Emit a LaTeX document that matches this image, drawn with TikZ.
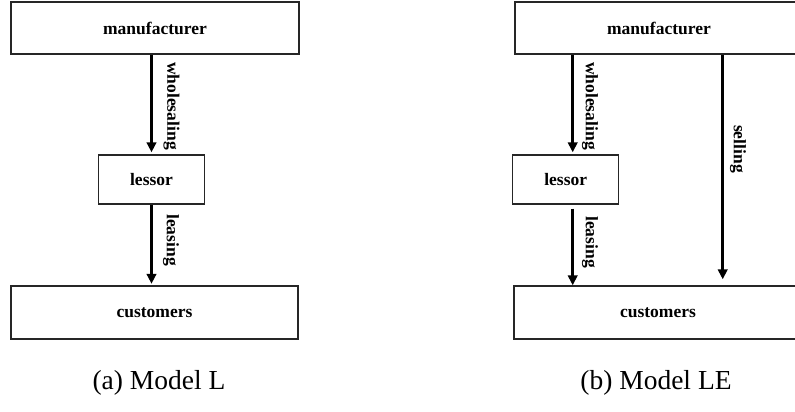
\documentclass[tikz,border=0pt]{standalone}
\usepackage{fontspec}
\setmainfont{Liberation Serif}
\usetikzlibrary{arrows.meta}
\begin{document}
\begin{tikzpicture}[x=1pt,y=-1pt,
  box/.style={draw=black!85, line width=1.4pt, inner sep=0pt,
    font=\fontsize{17.5}{20}\selectfont\bfseries},
  flow/.style={line width=2.7pt, -{Triangle[length=10pt,width=9.5pt]}},
  lab/.style={rotate=-90, inner sep=0pt, font=\fontsize{17.5}{20}\selectfont\bfseries},
  captext/.style={anchor=base, inner sep=0pt, font=\fontsize{27.5}{31}\selectfont}]
\useasboundingbox (0,0) rectangle (795,412);

% (a) Model L
\node[box, minimum width=288pt, minimum height=52pt] (mL) at (155,28) {manufacturer};
\node[box, minimum width=106pt, minimum height=49pt] (lL) at (151.5,179.5) {lessor};
\node[box, minimum width=287pt, minimum height=53pt] (cL) at (154.5,312.5) {customers};
\draw[flow] (mL.south -| lL.north) -- ([yshift=2pt]lL.north);
\draw[flow] (lL.south) -- ([yshift=1.5pt]cL.north -| lL.south);
\node[lab] (wlabL) at (171.5,106) {wholesaling};
\node[lab] (llabL) at (171,240) {leasing};
\node[captext] (capA) at (159,389) {(a) Model L};

% (b) Model LE
\node[box, minimum width=288pt, minimum height=52pt] (mR) at (659,28) {manufacturer};
\node[box, minimum width=106pt, minimum height=49pt] (lR) at (565.7,179.5) {lessor};
\node[box, minimum width=288pt, minimum height=53pt] (cR) at (658,312.5) {customers};
\coordinate (wR) at ([xshift=7pt]lR.north);
\coordinate (sR) at ([xshift=63.7pt]mR.south);
\draw[flow] (mR.south -| wR) -- ([yshift=2pt]wR);
\draw[flow] ([yshift=-4pt]lR.south -| wR) -- (cR.north -| wR);
\draw[flow] (sR) -- ([yshift=6pt]cR.north -| sR);
\node[lab] (wlabR) at (590,106) {wholesaling};
\node[lab] (llabR) at (590,242) {leasing};
\node[lab] (slabR) at (738,149) {selling};
\node[captext] (capB) at (656,389) {(b) Model LE};
\end{tikzpicture}
\end{document}
